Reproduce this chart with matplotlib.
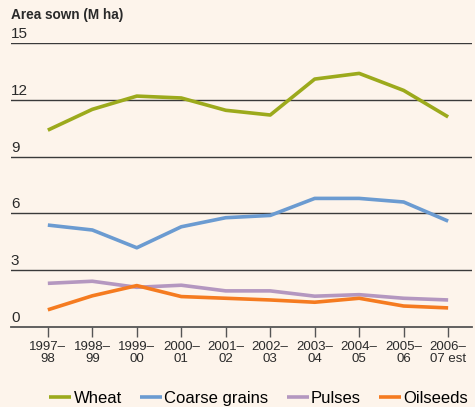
import matplotlib
matplotlib.use("Agg")
import matplotlib.pyplot as plt

plt.rcParams['font.family'] = ['Liberation Sans', 'DejaVu Sans']

years = ["1997–\n98", "1998–\n99", "1999–\n00", "2000–\n01", "2001–\n02",
         "2002–\n03", "2003–\n04", "2004–\n05", "2005–\n06", "2006–\n07 est"]
wheat = [10.4, 11.5, 12.2, 12.1, 11.45, 11.2, 13.1, 13.4, 12.5, 11.1]
coarse_grains = [5.38, 5.12, 4.18, 5.29, 5.77, 5.89, 6.79, 6.79, 6.6, 5.59]
pulses = [2.3, 2.41, 2.09, 2.2, 1.9, 1.9, 1.62, 1.7, 1.51, 1.42]
oilseeds = [0.9, 1.64, 2.18, 1.6, 1.51, 1.42, 1.3, 1.51, 1.1, 1.0]
yticks = [0, 3, 6, 9, 12, 15]

bg = "#fdf4eb"
fig = plt.figure(figsize=(4.75, 4.07), dpi=100, facecolor=bg)
ax = fig.add_axes([0.023, 0.197, 0.971, 0.697], facecolor=bg)

x = list(range(len(years)))
series = [("Wheat", wheat, "#9caa1c"),
          ("Coarse grains", coarse_grains, "#6b9bd1"),
          ("Pulses", pulses, "#b497c0"),
          ("Oilseeds", oilseeds, "#f57b20")]
for name, vals, col in series:
    ax.plot(x, vals, color=col, lw=2.6, label=name, solid_capstyle="butt", zorder=3)

# gridlines with labels sitting on top
for t in yticks[1:]:
    ax.axhline(t, color="#3a3a3a", lw=1.0, zorder=1)
for t in yticks:
    ax.text(0.0, t + 0.1, str(t), transform=ax.get_yaxis_transform(),
            ha="left", va="bottom", fontsize=11, color="#2a2a2a")

ax.set_ylim(0, 15)
ax.set_xlim(-0.83, 9.54)
ax.set_yticks([])
ax.set_xticks(x)
ax.set_xticklabels(years, fontsize=9.5, color="#2a2a2a", linespacing=1.05)
ax.tick_params(axis="x", length=7, width=1, color="#555555", pad=3)
for s in ["top", "right", "left"]:
    ax.spines[s].set_visible(False)
ax.spines["bottom"].set_color("#555555")
ax.spines["bottom"].set_linewidth(1.3)

fig.text(0.023, 0.962, "Area sown (M ha)", fontsize=9.8, fontweight="bold",
         color="#2a2a2a", ha="left", va="center")

fig.legend(loc="lower center", bbox_to_anchor=(0.545, -0.035), ncol=4, frameon=False,
           fontsize=12, handlelength=1.3, handletextpad=0.15, columnspacing=1.1)

fig.savefig("out.png", dpi=100, facecolor=bg)
